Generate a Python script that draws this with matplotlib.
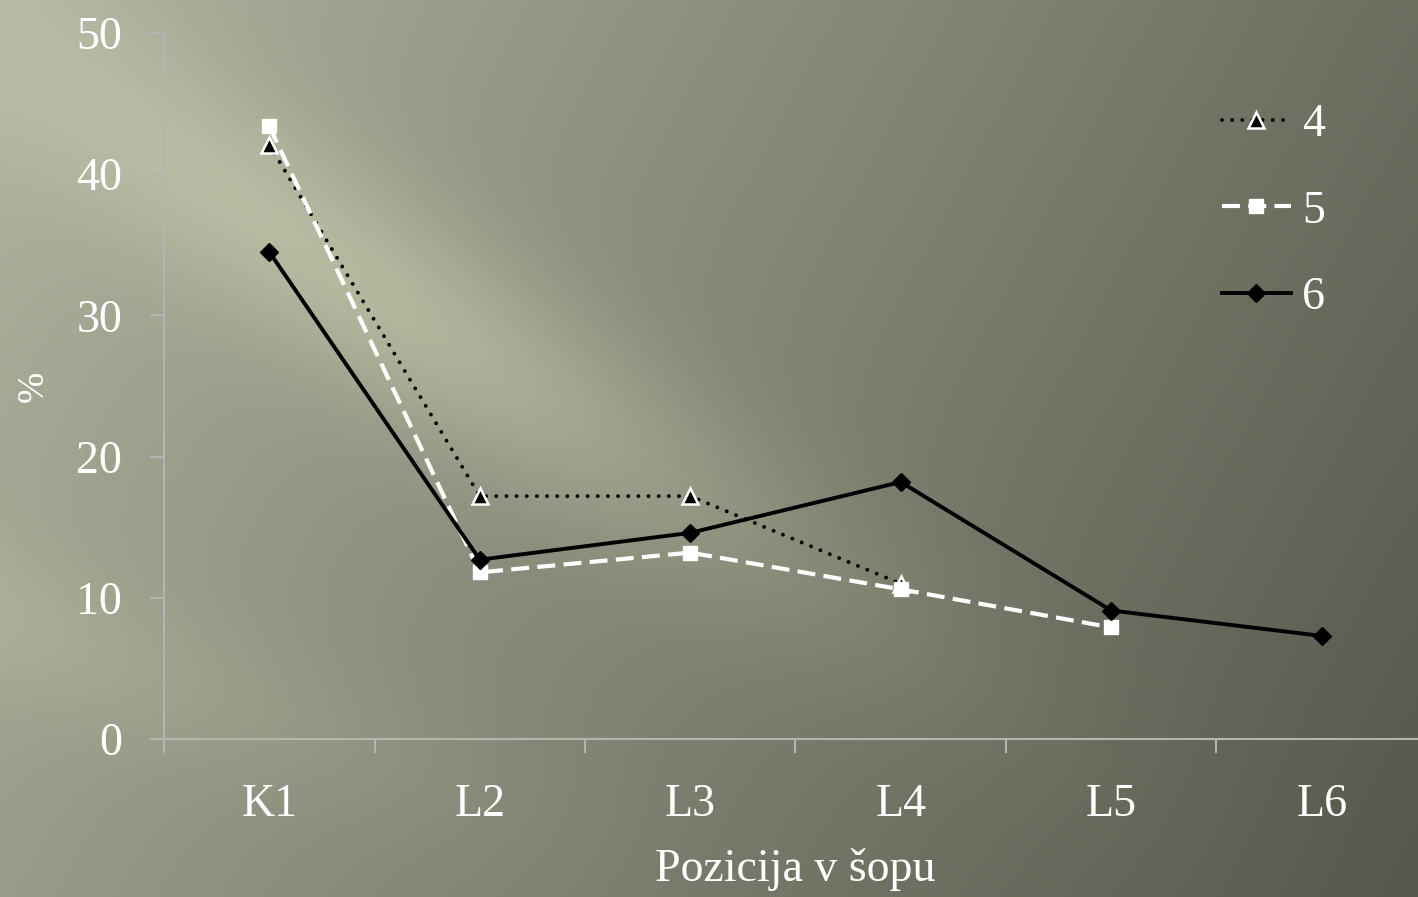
import numpy as np
import matplotlib.pyplot as plt

# datos
pozicije = ['K1', 'L2', 'L3', 'L4', 'L5', 'L6']
serija_4 = [42.1, 17.2, 17.2, 11.0]
serija_5 = [43.4, 11.8, 13.2, 10.6, 7.9]
serija_6 = [34.5, 12.7, 14.6, 18.2, 9.1, 7.3]
y_ticks = [0, 10, 20, 30, 40, 50]

plt.rcParams['font.family'] = ['Liberation Serif', 'DejaVu Serif']

fig = plt.figure(figsize=(14.18, 8.97), dpi=100)

# fondo con degradado y franja clara diagonal
W, H = 1418, 897
xx, yy = np.meshgrid(np.arange(W), np.arange(H))
t = (xx * 0.85 + yy * 0.45) / (W * 0.85 + H * 0.45)
base_claro = np.array([176, 179, 158])
base_oscuro = np.array([86, 86, 75])
img = base_claro[None, None, :] * (1 - t[..., None]) + base_oscuro[None, None, :] * t[..., None]
# franja
d = (yy - (60 + 0.62 * xx)) / np.sqrt(1 + 0.62 ** 2)
franja = np.exp(-(d / 100.0) ** 2) * np.exp(-((xx - 420) / 420.0) ** 2)
img = img + franja[..., None] * np.array([30, 30, 24])
d2 = (yy - (620 + 0.35 * xx)) / np.sqrt(1 + 0.35 ** 2)
franja2 = np.exp(-(d2 / 80.0) ** 2) * np.clip(1 - xx / 700.0, 0, 1)
img = img + franja2[..., None] * np.array([12, 12, 9])
img = np.clip(img, 0, 255).astype(np.uint8)

fondo = fig.add_axes([0, 0, 1, 1], zorder=-1)
fondo.imshow(img, aspect='auto', extent=[0, 1, 0, 1], interpolation='bilinear')
fondo.axis('off')

ax = fig.add_axes([164 / W, 1 - 739 / H, 6 * 210.5 / W, 706 / H])
ax.set_facecolor('none')

x = np.arange(len(pozicije))
l4, = ax.plot(x[:len(serija_4)], serija_4, color='black', lw=2.8,
              linestyle=(0, (0.01, 2.6)), dash_capstyle='round',
              marker='^', markersize=11, markerfacecolor='black',
              markeredgecolor='white', markeredgewidth=1.8, label='4', zorder=3)
l5, = ax.plot(x[:len(serija_5)], serija_5, color='white', lw=3,
              linestyle=(0, (4.3, 2.0)), marker='s', markersize=10,
              markerfacecolor='white', markeredgecolor='white', label='5', zorder=4)
l6, = ax.plot(x, serija_6, color='black', lw=2.8, marker='D', markersize=9,
              markerfacecolor='black', markeredgecolor='black', label='6', zorder=5)

ax.set_xlim(-0.5, 5.5)
ax.set_ylim(0, 50)
ax.set_yticks(y_ticks)
ax.set_xticks(np.arange(-0.5, 6.0, 1.0))
ax.set_xticklabels([])
ax.set_xticks(x, minor=True)
ax.set_xticklabels(pozicije, minor=True)

eje_color = '#b4b4b0'
for lado in ['top', 'right']:
    ax.spines[lado].set_visible(False)
for lado in ['left', 'bottom']:
    ax.spines[lado].set_color(eje_color)
    ax.spines[lado].set_linewidth(1.5)
ax.tick_params(axis='both', which='major', color=eje_color, width=1.5, length=10,
               direction='out', labelsize=33, labelcolor='white')
ax.tick_params(axis='y', pad=20)
ax.tick_params(axis='x', which='minor', length=0, pad=32, labelsize=33, labelcolor='white')

ax.set_xlabel('Pozicija v šopu', fontsize=33, color='white', labelpad=16)
ax.set_ylabel('%', fontsize=27, color='white', labelpad=30)
ax.yaxis.set_label_coords(-0.09, 0.5, transform=ax.transAxes)

fig.legend(handles=[l4, l5, l6], loc='upper left', bbox_to_anchor=(1222 / W, 1 - 104 / H),
           frameon=False, fontsize=33, labelcolor='white', handlelength=1.5,
           handletextpad=0.25, labelspacing=0.95, borderpad=0, borderaxespad=0,
           numpoints=1)

fig.savefig('out.png', dpi=100)
